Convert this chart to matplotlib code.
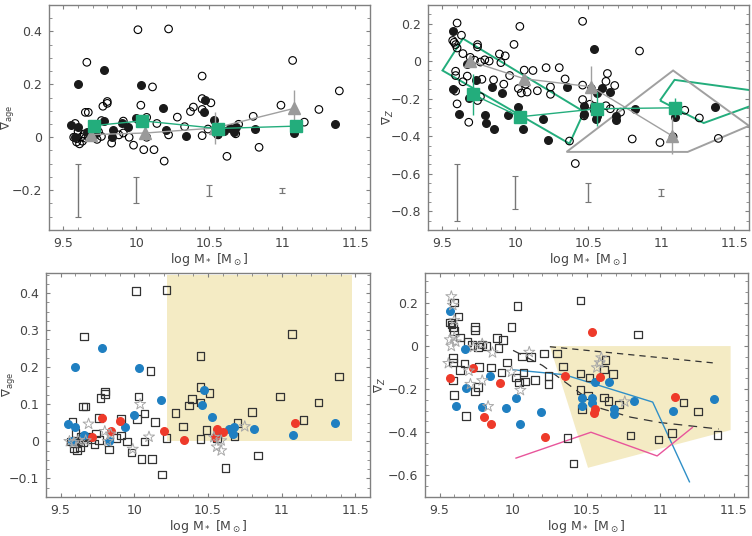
import numpy as np
import matplotlib
matplotlib.use('Agg')
import matplotlib.pyplot as plt
from matplotlib.patches import Polygon
from matplotlib.ticker import MultipleLocator

# ============================================================
# data: age gradients (panels 1 and 3)
# ============================================================
age_open_x = [10.01, 10.22, 9.66, 11.07, 10.45, 10.11, 11.39, 9.80, 9.80, 9.77, 10.03, 10.45,
              10.51, 10.39, 10.45, 10.37, 10.99, 11.25, 9.65, 9.67, 10.28, 10.07, 10.02, 9.91,
              9.76, 10.14, 10.33, 10.80, 10.70, 11.15, 9.58, 10.49, 9.74, 10.22, 10.45, 10.68,
              10.56, 10.07, 9.95, 9.88, 9.91, 9.98, 10.05, 10.12, 10.19, 9.83, 10.62, 10.84,
              9.61, 9.59, 9.57, 9.59, 9.62, 9.65, 9.68, 9.71, 9.73, 9.76, 9.64, 9.60, 9.69, 9.63]
age_open_y = [0.406, 0.409, 0.283, 0.290, 0.231, 0.190, 0.175, 0.135, 0.128, 0.117, 0.121, 0.146,
              0.130, 0.114, 0.105, 0.097, 0.121, 0.105, 0.094, 0.094, 0.076, 0.075, 0.061, 0.061,
              0.063, 0.052, 0.040, 0.079, 0.049, 0.057, 0.052, 0.031, 0.021, 0.009, 0.006, 0.013,
              0.009, 0.0, 0.0, 0.009, 0.016, -0.030, -0.047, -0.047, -0.090, -0.022, -0.072, -0.038,
              -0.025, -0.018, 0.0, -0.005, 0.0, -0.003, 0.010, 0.005, -0.008, 0.003, 0.012, 0.022,
              0.013, -0.015]
age_blue_x = [9.78, 9.60, 10.03, 10.18, 10.47, 10.46, 10.00, 10.53, 9.94, 9.55, 9.60, 9.66,
              9.83, 10.56, 10.64, 10.68, 10.67, 10.81, 11.08, 11.36, 9.58]
age_blue_y = [0.253, 0.202, 0.199, 0.112, 0.139, 0.097, 0.072, 0.065, 0.038, 0.048, 0.038, 0.018,
              0.0, 0.022, 0.034, 0.040, 0.020, 0.033, 0.016, 0.049, 0.002]
age_red_x = [9.78, 9.90, 9.84, 9.71, 10.20, 10.34, 10.56, 10.55, 10.60, 11.09]
age_red_y = [0.063, 0.054, 0.029, 0.013, 0.027, 0.004, 0.034, 0.013, 0.025, 0.050]
age_star_x = [10.04, 9.69, 9.80, 10.10, 9.99, 10.75, 10.54, 10.56, 10.59, 10.59, 9.56, 9.59,
              9.62, 9.67, 9.82, 9.84]
age_star_y = [0.100, 0.047, 0.027, 0.012, -0.021, 0.040, 0.011, -0.015, -0.025, 0.002, 0.0,
              -0.003, 0.003, 0.002, 0.0, 0.02]

age_mean_x = [9.71, 10.04, 10.56, 11.09]
age_mean_y = [0.044, 0.062, 0.033, 0.042]
age_mean_e = [0.01, 0.02, 0.015, 0.01]
age_tri_x = [9.69, 10.06, 10.54, 11.08]
age_tri_y = [0.010, 0.016, 0.035, 0.109]
age_tri_e = [0.02, 0.025, 0.06, 0.07]

# ============================================================
# data: metallicity gradients (panels 2 and 4)
# ============================================================
z_open_x = [9.60, 10.03, 10.46, 10.85, 9.57, 9.58, 9.59, 9.60, 9.63, 9.74, 9.74, 9.99, 9.93,
            9.89, 9.90, 9.82, 9.79, 9.69, 9.64, 9.72, 9.76, 10.06, 10.12, 10.21, 10.30, 10.34,
            9.96, 9.85, 9.77, 9.67, 9.59, 9.59, 9.64, 9.92, 10.07, 10.02, 10.04, 10.08, 10.15,
            10.24, 10.24, 9.76, 9.74, 9.59, 9.60, 9.68, 10.46, 10.52, 10.62, 10.63, 10.68, 10.46,
            10.51, 10.47, 10.62, 10.65, 10.72, 10.80, 10.99, 11.08, 11.16, 11.26, 11.39, 10.37,
            10.41]
z_open_y = [0.203, 0.185, 0.212, 0.054, 0.110, 0.100, 0.088, 0.070, 0.138, 0.088, 0.075, 0.089,
            0.028, 0.038, -0.008, 0.0, 0.007, 0.020, 0.040, 0.005, -0.005, -0.048, -0.050, -0.035,
            -0.035, -0.095, -0.077, -0.100, -0.097, -0.080, -0.077, -0.054, -0.110, -0.123, -0.123,
            -0.146, -0.170, -0.165, -0.158, -0.138, -0.177, -0.190, -0.210, -0.160, -0.228, -0.326,
            -0.128, -0.146, -0.108, -0.066, -0.130, -0.205, -0.230, -0.292, -0.238, -0.254, -0.272,
            -0.415, -0.434, -0.403, -0.262, -0.303, -0.412, -0.426, -0.546]
z_blue_x = [9.57, 9.67, 9.84, 9.68, 9.61, 9.79, 9.95, 10.02, 10.05, 10.19, 10.56, 10.65, 10.47,
            10.54, 10.54, 10.47, 10.69, 10.69, 10.82, 11.09, 11.37]
z_blue_y = [0.162, -0.015, -0.138, -0.195, -0.280, -0.285, -0.288, -0.243, -0.362, -0.308, -0.169,
            -0.165, -0.240, -0.240, -0.262, -0.280, -0.290, -0.315, -0.254, -0.300, -0.246]
z_red_x = [10.54, 9.73, 9.57, 9.91, 9.80, 9.85, 10.22, 10.35, 10.59, 10.56, 10.55, 11.10]
z_red_y = [0.065, -0.103, -0.150, -0.170, -0.330, -0.362, -0.423, -0.138, -0.142, -0.290, -0.310,
           -0.238]
z_star_x = [9.58, 9.59, 9.60, 9.57, 9.60, 9.61, 9.58, 9.56, 9.70, 9.71, 9.79, 9.83, 9.86, 9.99,
            10.05, 10.11, 10.57, 10.59, 10.60, 10.76, 9.79, 9.73]
z_star_y = [0.230, 0.190, 0.120, 0.030, 0.040, 0.020, 0.0, -0.080, -0.115, -0.177, 0.010, -0.280,
            -0.030, -0.120, -0.205, -0.028, -0.100, -0.077, -0.054, -0.258, -0.160, -0.005]

z_mean_x = [9.71, 10.03, 10.56, 11.09]
z_mean_y = [-0.178, -0.297, -0.254, -0.249]
z_mean_e = [0.11, 0.03, 0.09, 0.05]
z_tri_x = [9.69, 10.06, 10.52, 11.07]
z_tri_y = [0.0, -0.094, -0.137, -0.397]
z_tri_e = [0.03, 0.03, 0.11, 0.10]

# typical uncertainties
err_x = [9.6, 10.0, 10.5, 11.0]
age_err = [0.10, 0.05, 0.02, 0.01]
z_err = [0.15, 0.09, 0.05, 0.02]

# model regions / tracks
z_green_poly1 = [(9.50, -0.05), (9.64, 0.12), (10.47, -0.27), (10.37, -0.44)]
z_green_poly2 = [(10.99, -0.21), (11.09, -0.10), (11.75, -0.17), (11.75, -0.20), (11.29, -0.33)]
z_gray_poly = [(10.35, -0.484), (11.08, -0.05), (11.60, -0.345), (11.18, -0.484)]
age_box = [(10.22, 0.0), (10.22, 0.45), (11.48, 0.45), (11.48, 0.0)]
z_box = [(10.25, 0.0), (11.48, 0.0), (11.48, -0.39), (10.51, -0.565)]
blue_line_x = [10.0, 10.35, 10.95, 11.2]
blue_line_y = [-0.11, -0.133, -0.26, -0.63]
pink_line_x = [10.02, 10.53, 10.98, 11.22]
pink_line_y = [-0.52, -0.40, -0.51, -0.378]
dash1_x = [10.25, 11.39]
dash1_y = [-0.003, -0.08]
dash2_x = [10.0, 10.2, 10.4, 10.6, 10.8, 11.0, 11.2, 11.4]
dash2_y = [-0.02, -0.09, -0.19, -0.29, -0.33, -0.355, -0.37, -0.385]

GREEN = '#23ad7c'
GREY = '#a0a0a0'
BLUE = '#1f7fc1'
RED = '#ee3a2a'
YELLOW = '#f4ebc4'
FRAME = '#808080'

fig = plt.figure(figsize=(7.52, 5.36), dpi=100)
ax1 = fig.add_axes([0.065, 0.571, 0.427, 0.420])
ax2 = fig.add_axes([0.569, 0.571, 0.427, 0.420])
ax3 = fig.add_axes([0.061, 0.073, 0.431, 0.418])
ax4 = fig.add_axes([0.565, 0.073, 0.430, 0.418])


def style(ax, ylim, ymaj, ymin, ylabel, lab_x):
    ax.set_xlim(9.4, 11.6)
    ax.set_ylim(*ylim)
    ax.xaxis.set_major_locator(MultipleLocator(0.5))
    ax.xaxis.set_minor_locator(MultipleLocator(0.1))
    ax.yaxis.set_major_locator(MultipleLocator(ymaj))
    ax.yaxis.set_minor_locator(MultipleLocator(ymin))
    ax.xaxis.set_major_formatter(plt.FuncFormatter(lambda v, p: f'{v:g}'))
    ax.yaxis.set_major_formatter(plt.FuncFormatter(
        lambda v, p: '0' if abs(v) < 1e-9 else f'{v:g}'.replace('-', '\u2212')))
    ax.tick_params(which='both', direction='in', top=True, right=True,
                   color=FRAME, labelsize=9, labelcolor='#444444', pad=5)
    ax.tick_params(which='major', length=3, width=0.8)
    ax.tick_params(which='minor', length=2, width=0.6)
    for s in ax.spines.values():
        s.set_color(FRAME)
        s.set_linewidth(1.0)
    ax.set_xlabel(r'log M$_*$ [M$_\odot$]', fontsize=9, color='#444444', labelpad=1)
    ax.set_ylabel(ylabel, fontsize=8.5, color='#444444')
    ax.yaxis.set_label_coords(lab_x, 0.5)


def open_circles(ax, x, y):
    ax.scatter(x, y, s=30, facecolors='none', edgecolors='black', linewidths=0.8, zorder=3)


def squares(ax, x, y):
    ax.scatter(x, y, s=30, marker='s', facecolors='none', edgecolors='#333333',
               linewidths=0.9, zorder=3)


def stars(ax, x, y):
    ax.scatter(x, y, s=70, marker='*', facecolors='none', edgecolors='#a8a8a8',
               linewidths=0.7, zorder=4)


def means(ax, gx, gy, ge, tx, ty, te):
    ax.errorbar(tx, ty, yerr=te, color=GREY, lw=1.0, elinewidth=1.0, capsize=0,
                marker='^', ms=9, mfc='#9a9a9a', mec='#9a9a9a', zorder=5)
    ax.errorbar(gx, gy, yerr=ge, color=GREEN, lw=1.0, elinewidth=1.0, capsize=0,
                marker='s', ms=9, mfc=GREEN, mec=GREEN, zorder=6)


def typical(ax, yc, ye):
    ax.errorbar(err_x, [yc] * len(err_x), yerr=ye, fmt='none', ecolor='#777777',
                elinewidth=1.0, capsize=2, capthick=0.8, zorder=2)


# panel 1: age gradient
style(ax1, (-0.35, 0.5), 0.2, 0.05, r'$\nabla_{\rm age}$', -0.102)
open_circles(ax1, age_open_x, age_open_y)
ax1.scatter(age_blue_x + age_red_x, age_blue_y + age_red_y, s=30, c='#1a1a1a', zorder=3)
means(ax1, age_mean_x, age_mean_y, age_mean_e, age_tri_x, age_tri_y, age_tri_e)
typical(ax1, -0.2, age_err)

# panel 2: metallicity gradient
style(ax2, (-0.9, 0.3), 0.2, 0.05, r'$\nabla_{Z}$', -0.1)
ax2.add_patch(Polygon(z_green_poly1, closed=True, fill=False, ec=GREEN, lw=1.4, zorder=2))
ax2.add_patch(Polygon(z_green_poly2, closed=True, fill=False, ec=GREEN, lw=1.4, zorder=2))
ax2.add_patch(Polygon(z_gray_poly, closed=True, fill=False, ec=GREY, lw=1.4, zorder=2))
open_circles(ax2, z_open_x, z_open_y)
ax2.scatter(z_blue_x + z_red_x, z_blue_y + z_red_y, s=30, c='#1a1a1a', zorder=3)
means(ax2, z_mean_x, z_mean_y, z_mean_e, z_tri_x, z_tri_y, z_tri_e)
typical(ax2, -0.7, z_err)

# panel 3: age gradient, coloured
style(ax3, (-0.15, 0.455), 0.1, 0.025, r'$\nabla_{\rm age}$', -0.088)
ax3.add_patch(Polygon(age_box, closed=True, fc=YELLOW, ec='none', zorder=1))
squares(ax3, age_open_x, age_open_y)
ax3.scatter(age_blue_x, age_blue_y, s=30, c=BLUE, zorder=4)
ax3.scatter(age_red_x, age_red_y, s=30, c=RED, zorder=4)
stars(ax3, age_star_x, age_star_y)

# panel 4: metallicity gradient, coloured
style(ax4, (-0.7, 0.34), 0.2, 0.05, r'$\nabla_{Z}$', -0.115)
ax4.add_patch(Polygon(z_box, closed=True, fc=YELLOW, ec='none', zorder=1))
ax4.plot(dash1_x, dash1_y, ls=(0, (5, 4)), color='#333333', lw=0.9, zorder=2)
ax4.plot(dash2_x, dash2_y, ls=(0, (7, 5)), color='#333333', lw=0.9, zorder=2)
ax4.plot(blue_line_x, blue_line_y, color='#2f8fc7', lw=1.0, zorder=2)
ax4.plot(pink_line_x, pink_line_y, color='#e8559b', lw=1.0, zorder=2)
squares(ax4, z_open_x, z_open_y)
ax4.scatter(z_blue_x, z_blue_y, s=30, c=BLUE, zorder=4)
ax4.scatter(z_red_x, z_red_y, s=30, c=RED, zorder=4)
stars(ax4, z_star_x, z_star_y)

fig.savefig('out.png', dpi=100)
